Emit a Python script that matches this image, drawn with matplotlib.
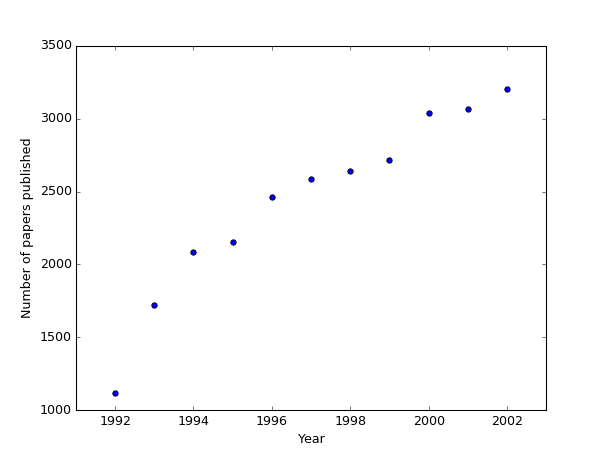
import matplotlib
matplotlib.use("Agg")
import matplotlib.pyplot as plt

plt.style.use("classic")

years = [1992, 1993, 1994, 1995, 1996, 1997, 1998, 1999, 2000, 2001, 2002]
papers = [1117, 1722, 2083, 2154, 2463, 2584, 2639, 2719, 3039, 3064, 3204]

fig = plt.figure(figsize=(607 / 76, 456 / 76), dpi=76)
ax = fig.add_subplot(111)
ax.scatter(years, papers, s=26, c="b", edgecolors="k", linewidths=0.8)
ax.set_xlim(1991, 2003)
ax.set_ylim(1000, 3500)
ax.set_xticks([1992, 1994, 1996, 1998, 2000, 2002])
ax.ticklabel_format(useOffset=False)
ax.set_xlabel("Year")
ax.set_ylabel("Number of papers published")
fig.savefig("out.png", dpi=76)
